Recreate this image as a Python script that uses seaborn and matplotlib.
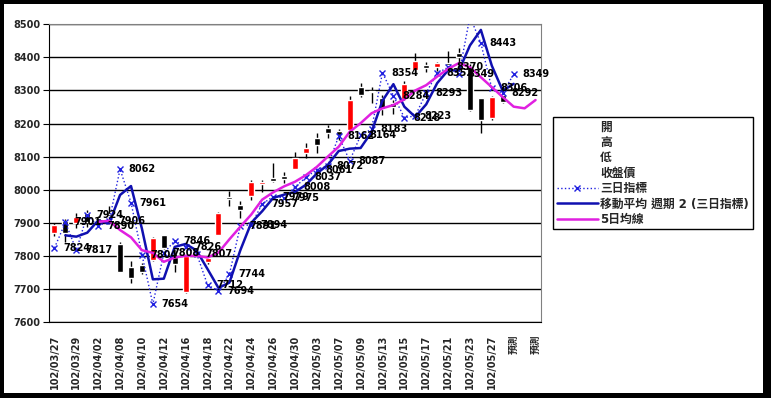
import matplotlib
matplotlib.use('Agg')
import matplotlib.pyplot as plt
from matplotlib.lines import Line2D
from matplotlib.patches import Rectangle
import seaborn as sns
import pandas as pd

dates = ['102/03/27', '102/03/28', '102/03/29', '102/04/01', '102/04/02', '102/04/03',
         '102/04/08', '102/04/09', '102/04/10', '102/04/11', '102/04/12', '102/04/15',
         '102/04/16', '102/04/17', '102/04/18', '102/04/19', '102/04/22', '102/04/23',
         '102/04/24', '102/04/25', '102/04/26', '102/04/29', '102/04/30', '102/05/02',
         '102/05/03', '102/05/06', '102/05/07', '102/05/08', '102/05/09', '102/05/10',
         '102/05/13', '102/05/14', '102/05/15', '102/05/16', '102/05/17', '102/05/20',
         '102/05/21', '102/05/22', '102/05/23', '102/05/24', '102/05/27', '102/05/28',
         '預測', '預測', '預測']

# 開 高 低 收盤價 (i = 0..41)
open_ = [7868, 7906, 7900, 7930, 7915, 7925, 7835, 7767, 7772, 7787, 7862, 7797,
         7690, 7808, 7780, 7864, 7978, 7955, 7980, 8017, 8034, 8041, 8064, 8110,
         8155, 8188, 8178, 8180, 8311, 8298, 8278, 8261, 8275, 8362, 8377, 8370,
         8382, 8414, 8372, 8276, 8216, 8287]
high = [7898, 7910, 7930, 7938, 7920, 7952, 7843, 7783, 7778, 7856, 7863, 7808,
        7802, 7812, 7795, 7932, 7996, 7966, 8029, 8029, 8080, 8052, 8115, 8140,
        8170, 8195, 8182, 8283, 8323, 8311, 8286, 8271, 8328, 8414, 8387, 8385,
        8420, 8427, 8380, 8278, 8282, 8312]
low = [7860, 7843, 7883, 7888, 7900, 7912, 7750, 7717, 7746, 7785, 7820, 7752,
       7688, 7800, 7776, 7862, 7950, 7913, 7970, 7994, 8024, 8020, 8062, 8095,
       8110, 8155, 8150, 8178, 8281, 8261, 8225, 8229, 8270, 8360, 8357, 8360,
       8376, 8367, 8238, 8172, 8212, 8262]
close = [7893, 7868, 7918, 7903, 7908, 7920, 7752, 7733, 7752, 7853, 7823, 7774,
         7800, 7803, 7793, 7930, 7972, 7940, 8024, 8023, 8026, 8031, 8095, 8127,
         8135, 8172, 8165, 8271, 8286, 8294, 8245, 8251, 8321, 8390, 8367, 8382,
         8378, 8400, 8240, 8210, 8279, 8265]

# 三日指標 (i = 0..42)
idx3 = [7824, 7901, 7817, 7924, 7890, 7906, 8062, 7961, 7804, 7654, 7808, 7846,
        7826, 7807, 7712, 7694, 7744, 7891, 7894, 7957, 7979, 7975, 8008, 8037,
        8061, 8072, 8162, 8087, 8164, 8183, 8354, 8284, 8218, 8223, 8293, 8352,
        8370, 8349, 8523, 8443, 8306, 8292, 8349]

# 移動平均 週期 2 (三日指標) (i = 1..42)
ma2 = [7862, 7858, 7870, 7907, 7898, 7984, 8011, 7882, 7729, 7731, 7827, 7836,
       7816, 7760, 7703, 7719, 7817, 7900, 7935, 7975, 7985, 7993, 8015, 8049,
       8075, 8117, 8124, 8126, 8174, 8269, 8319, 8251, 8220, 8258, 8322, 8361,
       8360, 8436, 8483, 8375, 8299, 8320]

# 5日均線 (i = 4..44)
ma5 = [7903, 7906, 7878, 7856, 7817, 7809, 7782, 7795, 7800, 7800, 7795, 7810,
       7850, 7888, 7925, 7970, 7992, 8010, 8024, 8044, 8069, 8100, 8130, 8175,
       8201, 8231, 8246, 8256, 8273, 8300, 8316, 8342, 8365, 8383, 8370, 8340,
       8310, 8280, 8251, 8246, 8271]

sns.set_style("white")
plt.rcParams['font.family'] = ['DejaVu Sans', 'Noto Sans CJK TC']

fig = plt.figure(figsize=(7.71, 3.98), dpi=100)
fig.patch.set_facecolor('black')
fig.add_artist(Rectangle((4 / 771, 5 / 398), 759 / 771, 389 / 398,
                         transform=fig.transFigure, facecolor='white',
                         edgecolor='none', zorder=-10))
ax = fig.add_axes([49 / 771, 1 - 322 / 398, 492 / 771, 297.7 / 398])

candles = pd.DataFrame({'i': range(len(close)), 'open': open_, 'high': high,
                        'low': low, 'close': close})
candles['up'] = candles['close'] > candles['open']
candles['bottom'] = candles[['open', 'close']].min(axis=1)
candles['size'] = (candles['close'] - candles['open']).abs().clip(lower=2)

ax.vlines(candles['i'], candles['low'], candles['high'], color='black', lw=1, zorder=3)
ax.bar(candles['i'], candles['size'], bottom=candles['bottom'], width=0.55,
       color=['#ff0000' if u else 'black' for u in candles['up']], zorder=4)

x3 = list(range(len(idx3)))
sns.lineplot(x=x3, y=idx3, ax=ax, color='#2020e0', lw=1, linestyle=':',
             marker='x', markersize=5, mec='#2020e0', mew=1, zorder=5)
sns.lineplot(x=list(range(1, 1 + len(ma2))), y=ma2, ax=ax, color='#1010b0',
             lw=1.8, zorder=6)
sns.lineplot(x=list(range(4, 4 + len(ma5))), y=ma5, ax=ax, color='#e020e0',
             lw=1.8, zorder=6)

# labels of points above the top of the axis are not shown
for i, v in zip(x3, idx3):
    if v > 8500:
        continue
    ax.text(i + 0.8, v, str(v), fontsize=7, fontweight='bold', va='center',
            ha='left', color='black', zorder=7, clip_on=False)

ax.set_xlim(-0.5, len(dates) - 0.5)
ax.set_ylim(7600, 8500)
ax.set_yticks(range(7600, 8501, 100))
ax.set_yticklabels([str(v) for v in range(7600, 8501, 100)], fontsize=7, fontweight='bold')
ax.set_xticks(range(0, len(dates), 2))
ax.set_xticklabels(dates[::2], rotation=90, fontsize=7, fontweight='bold')
ax.set_xticks([k - 0.5 for k in range(len(dates) + 1)], minor=True)
ax.tick_params(axis='x', which='major', length=0, pad=9)
ax.tick_params(axis='x', which='minor', length=3, direction='in', color='black')
ax.tick_params(axis='y', length=4, direction='out', color='black', pad=2, left=True)
ax.grid(axis='y', color='black', lw=1)
ax.grid(axis='x', visible=False)
ax.set_axisbelow(True)
ax.set_xlabel('')
ax.set_ylabel('')
for side in ['left', 'bottom']:
    ax.spines[side].set_color('black')
for side in ['top', 'right']:
    ax.spines[side].set_color('#808080')

blank = Line2D([], [], linestyle='none')
handles = [blank, blank, blank, blank,
           Line2D([], [], color='#2020e0', lw=1, linestyle=':', marker='x',
                  markersize=5, mew=1),
           Line2D([], [], color='#1010b0', lw=1.8),
           Line2D([], [], color='#e020e0', lw=1.8)]
labels = ['開', '高', '低', '收盤價', '三日指標', '移動平均 週期 2 (三日指標)', '5日均線']
leg = ax.legend(handles, labels, loc='upper left',
                bbox_to_anchor=(553 / 771, 1 - 117 / 398), bbox_transform=fig.transFigure,
                fontsize=8.5, frameon=True, fancybox=False, edgecolor='black',
                framealpha=1, handlelength=3.5, handletextpad=0.2, borderpad=0.3,
                labelspacing=0.2, borderaxespad=0)
leg.get_frame().set_linewidth(1)
for t in leg.get_texts():
    t.set_fontweight('bold')

plt.savefig('out.png', dpi=100, facecolor=fig.get_facecolor())
